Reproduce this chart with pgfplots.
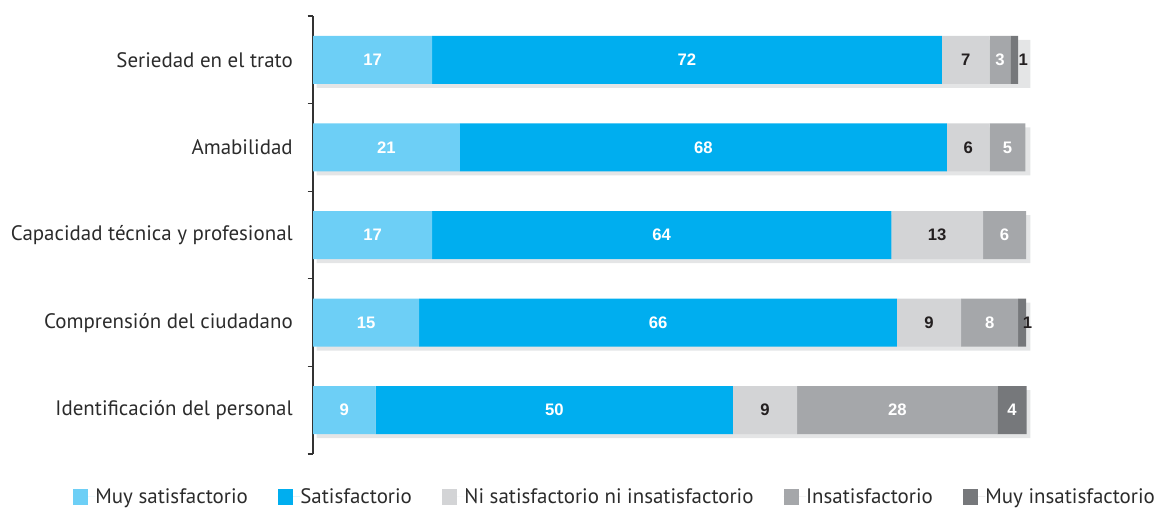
\documentclass[border=0pt]{standalone}
\usepackage{fontspec}
\setmainfont{PT Sans}
\newfontfamily\valfont{Liberation Sans}
\usepackage{pgfplots}
\pgfplotsset{compat=1.18}
\definecolor{c1}{HTML}{6DCFF6}
\definecolor{c2}{HTML}{00AEEF}
\definecolor{c3}{HTML}{D3D4D6}
\definecolor{c4}{HTML}{A5A7AA}
\definecolor{c5}{HTML}{76787B}
\definecolor{shadowc}{HTML}{E4E5E6}
\definecolor{axisc}{HTML}{333333}
\definecolor{darktext}{HTML}{231F20}
\definecolor{labtext}{HTML}{2B2B2B}
\begin{document}
\begin{tikzpicture}
\useasboundingbox (0,0) rectangle (867pt,381pt);
\pgfplotsset{base/.style={scale only axis, width=534.75pt, height=328.5pt,
  xmin=0, xmax=100, ymin=-0.5, ymax=4.5, at={(234.75pt,40.5pt)}, anchor=south west, clip=false}}
% shadow behind the bars
\begin{axis}[base, hide axis, xbar stacked, bar width=36pt]
\addplot[draw=none, fill=none, bar shift=-3pt] coordinates {(0.5,0) (0.5,1) (0.5,2) (0.5,3) (0.5,4)};
\addplot[draw=none, fill=shadowc, bar shift=-3pt] coordinates {(100.1,0) (100.1,1) (100.1,2) (100.1,3) (100.1,4)};
\end{axis}
% stacked bars
\begin{axis}[base, xbar stacked, bar width=36pt,
  axis x line=none, axis y line*=left,
  y axis line style={-, draw=axisc, line width=0.9pt},
  ytick={0,1,2,3,4},
  yticklabels={Identificación del personal, Comprensión del ciudadano, Capacidad técnica y profesional, Amabilidad, Seriedad en el trato},
  major tick length=0pt,
  minor ytick={-0.5,0.5,1.5,2.5,3.5,4.5},
  minor tick length=4pt, tick align=outside, ytick pos=left,
  every minor tick/.style={line width=0.9pt, draw=axisc},
  yticklabel style={inner sep=0pt, xshift=-15pt, font=\fontsize{15.7}{17}\selectfont, text=labtext},
  legend columns=-1,
  legend image code/.code={\fill[#1] (0pt,-5.8pt) rectangle (11.6pt,5.8pt); \path (0pt,0pt) -- (16.9pt,0pt);},
  legend style={at={(0.422,-0.098)}, anchor=center, draw=none, fill=none,
    font=\fontsize{15.7}{17}\selectfont, text=labtext,
    /tikz/every even column/.append style={column sep=22.5pt},
    nodes={inner sep=0pt}},
]
\addplot[fill=c1, draw=none] coordinates {(16.7,4) (20.6,3) (16.7,2) (14.9,1) (8.8,0)};
\addplot[fill=c2, draw=none] coordinates {(71.5,4) (68.3,3) (64.4,2) (67.0,1) (50.1,0)};
\addplot[fill=c3, draw=none] coordinates {(6.7,4) (6.0,3) (12.9,2) (9.0,1) (9.0,0)};
\addplot[fill=c4, draw=none] coordinates {(2.9,4) (5.0,3) (6.0,2) (8.0,1) (28.1,0)};
\addplot[fill=c5, draw=none] coordinates {(1.1,4) (0,3) (0,2) (1.1,1) (4.1,0)};
\legend{Muy satisfactorio, Satisfactorio, Ni satisfactorio ni insatisfactorio, Insatisfactorio, Muy insatisfactorio}
\end{axis}
% value labels
\begin{axis}[base, hide axis]
\addplot[draw=none, mark=none, nodes near coords, point meta=explicit symbolic,
  nodes near coords align=center,
  every node near coord/.append style={font=\valfont\bfseries\fontsize{12.5}{13}\selectfont, text=white, anchor=center}]
  table[meta=lab] {
x y lab
8.35 4 17
52.45 4 72
96.35 4 3
10.3 3 21
54.75 3 68
97.4 3 5
8.35 2 17
48.9 2 64
97.0 2 6
7.45 1 15
48.4 1 66
94.9 1 8
4.4 0 9
33.85 0 50
81.95 0 28
98.05 0 4
};
\addplot[draw=none, mark=none, nodes near coords, point meta=explicit symbolic,
  nodes near coords align=center,
  every node near coord/.append style={font=\valfont\bfseries\fontsize{12.5}{13}\selectfont, text=darktext, anchor=center}]
  table[meta=lab] {
x y lab
91.55 4 7
99.6 4 1
91.9 3 6
87.55 2 13
86.4 1 9
100.2 1 1
63.4 0 9
};
\end{axis}
\end{tikzpicture}
\end{document}
